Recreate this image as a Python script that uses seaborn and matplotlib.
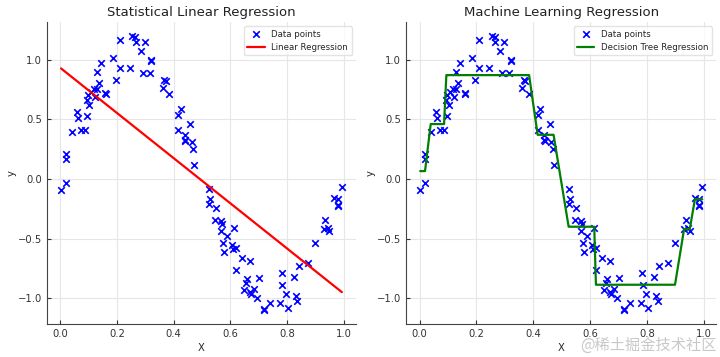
import numpy as np
import pandas as pd
import matplotlib
matplotlib.use("Agg")
import matplotlib.pyplot as plt
import seaborn as sns

# data points
X = [0.002, 0.019, 0.018, 0.019, 0.039, 0.059, 0.062, 0.071, 0.086, 0.095,
     0.094, 0.098, 0.102, 0.108, 0.118, 0.121, 0.129, 0.136, 0.129, 0.143,
     0.159, 0.161, 0.184, 0.196, 0.209, 0.209, 0.245, 0.254, 0.264, 0.265,
     0.284, 0.298, 0.291, 0.315, 0.320, 0.320, 0.361, 0.367, 0.371, 0.385,
     0.415, 0.425, 0.415, 0.439, 0.439, 0.441, 0.458, 0.463, 0.468, 0.471,
     0.524, 0.529, 0.524, 0.550, 0.547, 0.568, 0.571, 0.568, 0.588, 0.614,
     0.573, 0.579, 0.606, 0.610, 0.620, 0.641, 0.668, 0.620, 0.659, 0.655,
     0.700, 0.647, 0.668, 0.674, 0.685, 0.694, 0.718, 0.720, 0.741, 0.777,
     0.802, 0.795, 0.784, 0.781, 0.825, 0.832, 0.837, 0.842, 0.874, 0.898,
     0.935, 0.930, 0.945, 0.950, 0.968, 0.982, 0.982, 0.982, 0.994]
y = [-0.09, -0.03, 0.21, 0.17, 0.39, 0.56, 0.51, 0.41, 0.41, 0.53,
     0.66, 0.70, 0.62, 0.73, 0.75, 0.69, 0.75, 0.80, 0.90, 0.97,
     0.72, 0.71, 1.01, 0.83, 1.16, 0.93, 0.93, 1.20, 1.19, 1.15,
     1.07, 1.15, 0.89, 0.89, 1.00, 0.99, 0.76, 0.83, 0.82, 0.71,
     0.54, 0.59, 0.41, 0.37, 0.33, 0.32, 0.46, 0.31, 0.25, 0.12,
     -0.08, -0.17, -0.21, -0.24, -0.34, -0.35, -0.38, -0.44, -0.48, -0.41,
     -0.54, -0.61, -0.55, -0.59, -0.58, -0.66, -0.69, -0.76, -0.84, -0.87,
     -0.83, -0.93, -0.95, -0.96, -0.92, -1.00, -1.09, -1.10, -1.04, -1.04,
     -1.08, -0.96, -0.89, -0.79, -0.82, -0.98, -1.02, -0.73, -0.70, -0.54,
     -0.34, -0.42, -0.41, -0.44, -0.16, -0.17, -0.22, -0.23, -0.07]

# decision tree (depth 3) leaves
tree_splits = [0.029, 0.090, 0.400, 0.495, 0.617, 0.910, 0.959]
tree_levels = [0.066, 0.46, 0.87, 0.37, -0.40, -0.886, -0.42, -0.17]

df = pd.DataFrame({"X": X, "y": y}).sort_values("X")
df["tree"] = np.array(tree_levels)[np.digitize(df["X"], tree_splits)]

sns.set_style("whitegrid")
plt.rcParams["font.family"] = ["DejaVu Sans", "Noto Sans CJK SC"]
plt.rcParams.update({
    "grid.color": "#e6e6e6",
    "grid.linewidth": 0.8,
    "axes.edgecolor": "#444444",
    "xtick.direction": "in",
    "ytick.direction": "in",
    "xtick.bottom": True,
    "ytick.left": True,
    "xtick.major.size": 3,
    "ytick.major.size": 3,
    "xtick.color": "#333333",
    "ytick.color": "#333333",
})

fig = plt.figure(figsize=(7.2, 3.57), dpi=100)
ax1 = fig.add_axes([0.0653, 0.0924, 0.429, 0.846])
ax2 = fig.add_axes([0.564, 0.0924, 0.431, 0.846])

for ax in (ax1, ax2):
    sns.scatterplot(data=df, x="X", y="y", marker="x", color="blue", s=22,
                    linewidth=1.2, label="Data points", ax=ax)

sns.regplot(data=df, x="X", y="y", scatter=False, ci=None, color="red",
            line_kws={"linewidth": 1.6}, label="Linear Regression", ax=ax1)
sns.lineplot(data=df, x="X", y="tree", color="green", linewidth=1.6,
             estimator=None, label="Decision Tree Regression", ax=ax2)

ax1.set_title("Statistical Linear Regression", fontsize=9.5, pad=4, color="#222222")
ax2.set_title("Machine Learning Regression", fontsize=9.5, pad=4, color="#222222")
for ax in (ax1, ax2):
    ax.set_xlabel("X", fontsize=7.2, labelpad=3)
    ax.set_ylabel("y", fontsize=7.2, labelpad=1)
    ax.tick_params(labelsize=7.2, width=0.8)
    ax.set_xticks([0.0, 0.2, 0.4, 0.6, 0.8, 1.0])
    ax.set_yticks([-1.0, -0.5, 0.0, 0.5, 1.0])
    ax.spines["top"].set_visible(False)
    ax.spines["right"].set_visible(False)
    ax.legend(loc="upper right", fontsize=6.2, frameon=True, edgecolor="#dddddd")

fig.text(0.995, 0.008, "@稀土掘金技术社区", ha="right", va="bottom",
         fontsize=11, color="#bbbbbb", alpha=0.8,
         family=["Noto Sans CJK SC", "DejaVu Sans"])

fig.savefig("out.png", dpi=100)
